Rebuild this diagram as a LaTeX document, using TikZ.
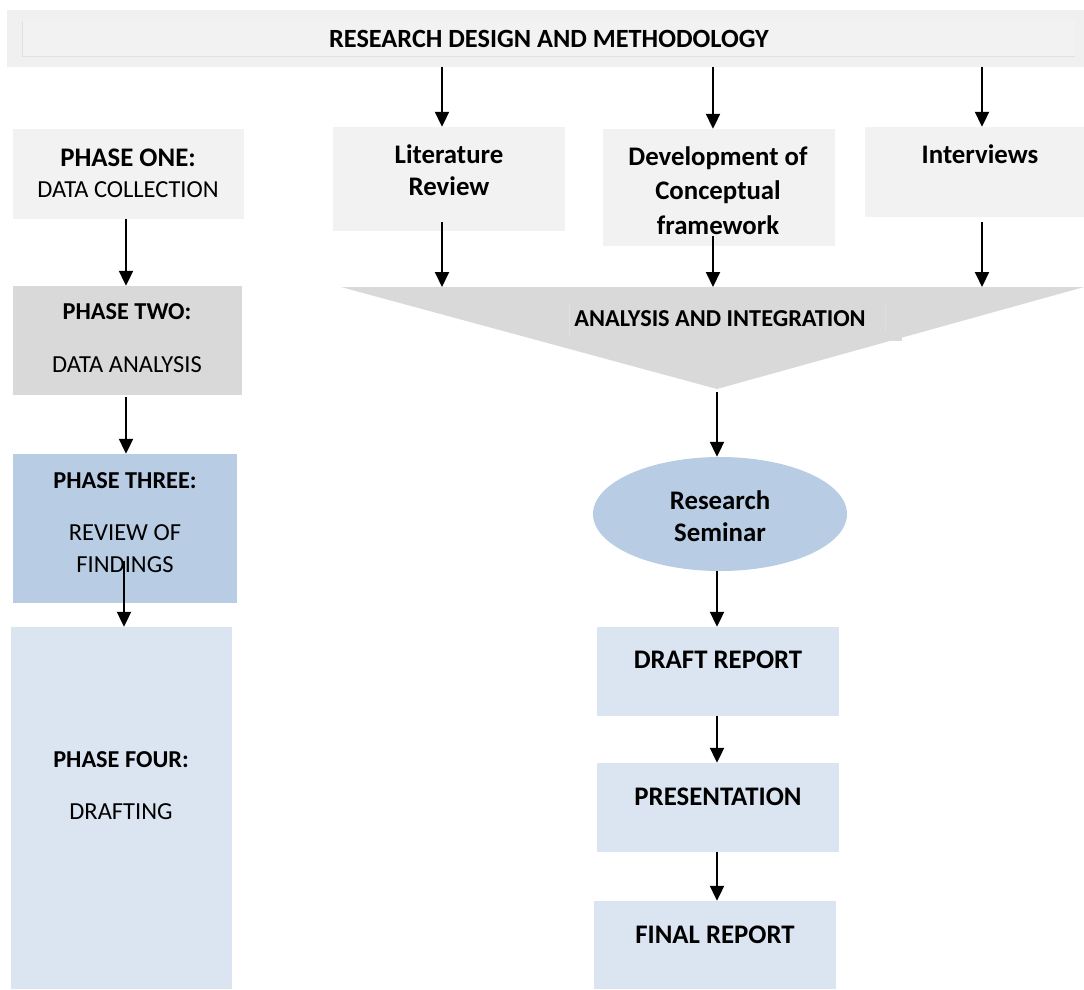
\documentclass[tikz,border=0pt]{standalone}
\usepackage{fontspec}
\setmainfont{Carlito}
\usetikzlibrary{arrows.meta,calc,shapes.geometric}

\definecolor{lightgray}{HTML}{F2F2F2}
\definecolor{bargray}{HTML}{F0F0F0}
\definecolor{midgray}{HTML}{D9D9D9}
\definecolor{edgegray}{HTML}{E0E0E0}
\definecolor{softblue}{HTML}{B8CCE4}
\definecolor{paleblue}{HTML}{DBE5F1}

\tikzset{
  panel/.style={draw=none, rectangle, inner sep=0pt},
  flow/.style={line width=2pt, -{Triangle[length=15pt,width=14pt]}},
  bigbold/.style={font=\fontsize{26.8}{32}\selectfont\bfseries, anchor=base, inner sep=0pt},
  midbold/.style={font=\fontsize{24.3}{29}\selectfont\bfseries, anchor=base, inner sep=0pt},
  plain/.style={font=\fontsize{24.5}{29}\selectfont, anchor=base, inner sep=0pt},
}

\begin{document}
\begin{tikzpicture}[x=1pt, y=-1pt]
\useasboundingbox (0,0) rectangle (1084,989);

% heading bar
\node[panel, fill=bargray, minimum width=1077pt, minimum height=57pt] (bar) at (545.5,38.5) {};
\fill[lightgray] (22,20) rectangle (1075,56);
\draw[edgegray, line width=0.6pt] (22,21) -- (22,56) -- (1075,56);
\node[bigbold, font=\fontsize{26.3}{32}\selectfont\bfseries] (title) at (549,47) {RESEARCH DESIGN AND METHODOLOGY};

% left column: phases
\node[panel, fill=lightgray, minimum width=231pt, minimum height=90pt] (p1) at (128.5,174) {};
\node[bigbold] (p1a) at (128,166) {PHASE ONE:};
\node[plain]   (p1b) at (128,197) {DATA COLLECTION};

\node[panel, fill=midgray, minimum width=229pt, minimum height=109pt] (p2) at (127.5,340.5) {};
\node[midbold] (p2a) at (127,319) {PHASE TWO:};
\node[plain]   (p2b) at (127,372) {DATA ANALYSIS};

\node[panel, fill=softblue, minimum width=224pt, minimum height=149pt] (p3) at (125,528.5) {};
\node[midbold] (p3a) at (125,488) {PHASE THREE:};
\node[plain]   (p3b) at (125,540) {REVIEW OF};
\node[plain]   (p3c) at (125,572) {FINDINGS};

\node[panel, fill=paleblue, minimum width=221pt, minimum height=362pt] (p4) at (121.5,808) {};
\node[midbold] (p4a) at (121,767) {PHASE FOUR:};
\node[plain]   (p4b) at (121,819) {DRAFTING};

% upper row: three strands
\node[panel, fill=lightgray, minimum width=232pt, minimum height=104pt] (lit) at (449,179) {};
\node[bigbold] (lita) at (449,163) {Literature};
\node[bigbold] (litb) at (449,195) {Review};

\node[panel, fill=lightgray, minimum width=232pt, minimum height=117pt] (dev) at (719,187.5) {};
\node[bigbold] (deva) at (718,165) {Development of};
\node[bigbold] (devb) at (718,199) {Conceptual};
\node[bigbold] (devc) at (718,234) {framework};

\node[panel, fill=lightgray, minimum width=219pt, minimum height=90pt] (intv) at (974.5,172) {};
\node[bigbold] (intva) at (980,163) {Interviews};

% merging funnel
\coordinate (tritop) at (0,287);
\coordinate (apex) at (717,389);
\fill[midgray] (341,287) -- (1084,287) -- (apex) -- cycle;
\fill[midgray] (569,303) rectangle (902,341);
\draw[edgegray, line width=0.8pt] (569,303) -- (569,336);
\draw[edgegray, line width=0.8pt] (885,303) -- (885,331);
\node[midbold] (ana) at (720,326) {ANALYSIS AND INTEGRATION};

% right column: outputs
\node[ellipse, fill=softblue, draw=none, minimum width=254pt, minimum height=114pt, inner sep=0pt] (sem) at (720,514) {};
\node[bigbold] (sema) at (720,509) {Research};
\node[bigbold] (semb) at (720,541) {Seminar};

\node[panel, fill=paleblue, minimum width=242pt, minimum height=89pt] (draft) at (718,671.5) {};
\node[bigbold] (drafta) at (718,668) {DRAFT REPORT};

\node[panel, fill=paleblue, minimum width=242pt, minimum height=89pt] (pres) at (718,807.5) {};
\node[bigbold] (presa) at (718,805) {PRESENTATION};

\node[panel, fill=paleblue, minimum width=242pt, minimum height=88pt] (final) at (715,945) {};
\node[bigbold] (finala) at (715,943) {FINAL REPORT};

% arrow guide lines
\coordinate (a1) at (442,0);
\coordinate (a2) at (713,0);
\coordinate (a3) at (982,0);
\coordinate (a4) at (126,0);
\coordinate (a5) at (124,0);

% connectors
\draw[flow] (bar.south -| a1) -- (lit.north -| a1);
\draw[flow] (bar.south -| a2) -- (dev.north -| a2);
\draw[flow] (bar.south -| a3) -- (intv.north -| a3);

\draw[flow] ($(lit.south -| a1)+(0,-9)$) -- (tritop -| a1);
\draw[flow] ($(dev.south -| a2)+(0,-10)$) -- (tritop -| a2);
\draw[flow] ($(intv.south -| a3)+(0,5)$) -- (tritop -| a3);

\draw[flow] (p1.south -| a4) -- (p2.north -| a4);
\draw[flow] ($(p2.south -| a4)+(0,2)$) -- (p3.north -| a4);
\draw[flow] ($(p3.south -| a5)+(0,-42)$) -- (p4.north -| a5);

\draw[flow] ($(apex)+(0,3)$) -- (apex |- sem.north);
\draw[flow] (sem.south -| apex) -- (draft.north -| apex);
\draw[flow] (draft.south -| apex) -- (pres.north -| apex);
\draw[flow] (pres.south -| apex) -- (final.north -| apex);
\end{tikzpicture}
\end{document}
